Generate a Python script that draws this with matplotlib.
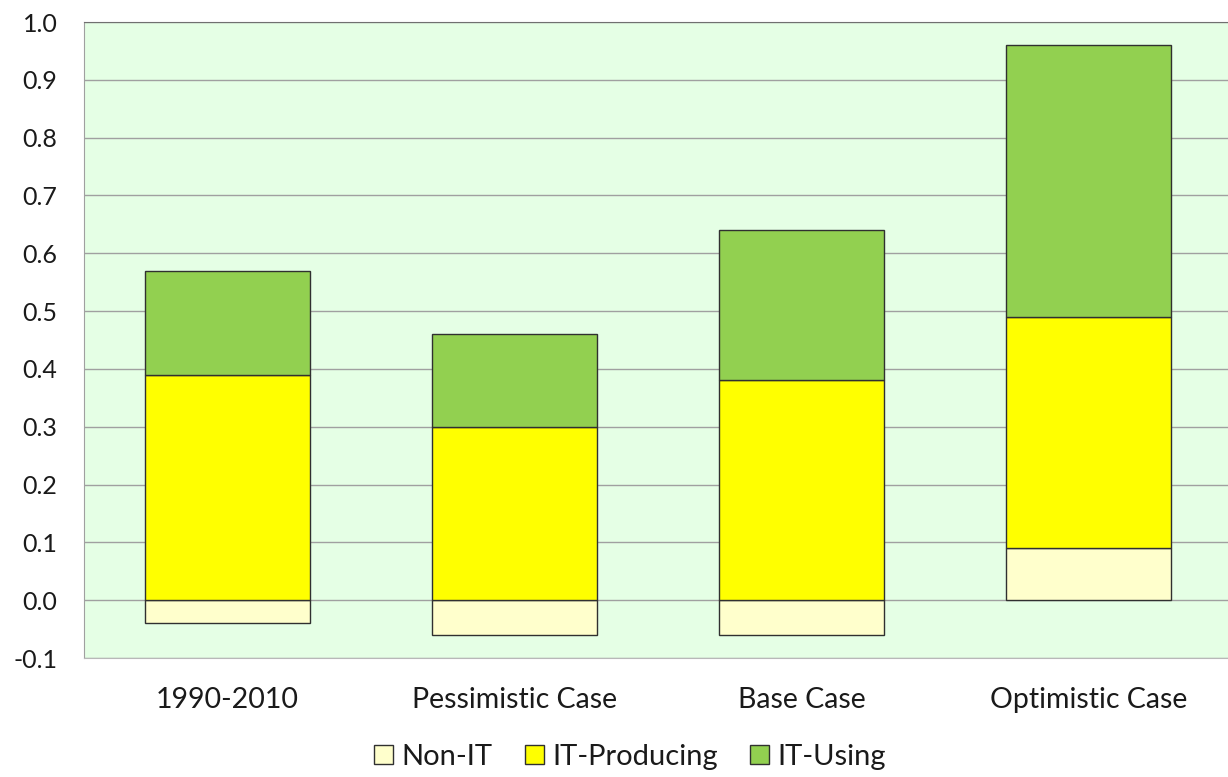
import numpy as np
import matplotlib
matplotlib.use('Agg')
import matplotlib.pyplot as plt

categories = ['1990-2010', 'Pessimistic Case', 'Base Case', 'Optimistic Case']
non_it = [-0.04, -0.06, -0.06, 0.09]
it_producing = [0.39, 0.30, 0.38, 0.40]
it_using = [0.18, 0.16, 0.26, 0.47]
yticks = [-0.1, 0.0, 0.1, 0.2, 0.3, 0.4, 0.5, 0.6, 0.7, 0.8, 0.9, 1.0]

plt.rcParams['font.family'] = ['Lato', 'DejaVu Sans']

fig = plt.figure(figsize=(12.28, 7.77), dpi=100)
ax = fig.add_axes([84 / 1228, 1 - 658 / 777, 1 - 84 / 1228, (658 - 22) / 777])
ax.set_facecolor('#E5FFE5')

x = np.arange(len(categories))
w = 0.575
edge = dict(edgecolor='#303030', linewidth=1.0, zorder=3)
non_it_arr = np.array(non_it)
prod_bottom = np.where(non_it_arr > 0, non_it_arr, 0)
using_bottom = prod_bottom + np.array(it_producing)

ax.bar(x, non_it, w, color='#FFFFCC', label='Non-IT', **edge)
ax.bar(x, it_producing, w, bottom=prod_bottom, color='#FFFF00', label='IT-Producing', **edge)
ax.bar(x, it_using, w, bottom=using_bottom, color='#92D050', label='IT-Using', **edge)

ax.set_ylim(-0.1, 1.0)
ax.set_xlim(-0.5, 3.485)
ax.set_yticks(yticks)
ax.set_yticklabels([f'{v:.1f}' for v in yticks], fontsize=18, color='#1A1A1A')
ax.set_xticks(x)
ax.set_xticklabels(categories, fontsize=20.5, color='#1A1A1A')
ax.tick_params(axis='both', length=0)
ax.tick_params(axis='y', pad=19)
ax.tick_params(axis='x', pad=21)
ax.grid(axis='y', color='#A0A0A0', linewidth=1.0, zorder=0)
ax.set_axisbelow(True)

ax.spines['right'].set_visible(False)
ax.spines['top'].set_color('#707070')
ax.spines['left'].set_color('#A0A0A0')
ax.spines['bottom'].set_color('#B8B8B8')

leg = fig.legend(loc='center', ncol=3, frameon=False, fontsize=21,
                 handlelength=0.65, handleheight=0.65,
                 handletextpad=0.3, columnspacing=1.1,
                 bbox_to_anchor=(630 / 1228, 1 - 757 / 777),
                 bbox_transform=fig.transFigure)
for t in leg.get_texts():
    t.set_color('#1A1A1A')

fig.savefig('out.png', dpi=100)
